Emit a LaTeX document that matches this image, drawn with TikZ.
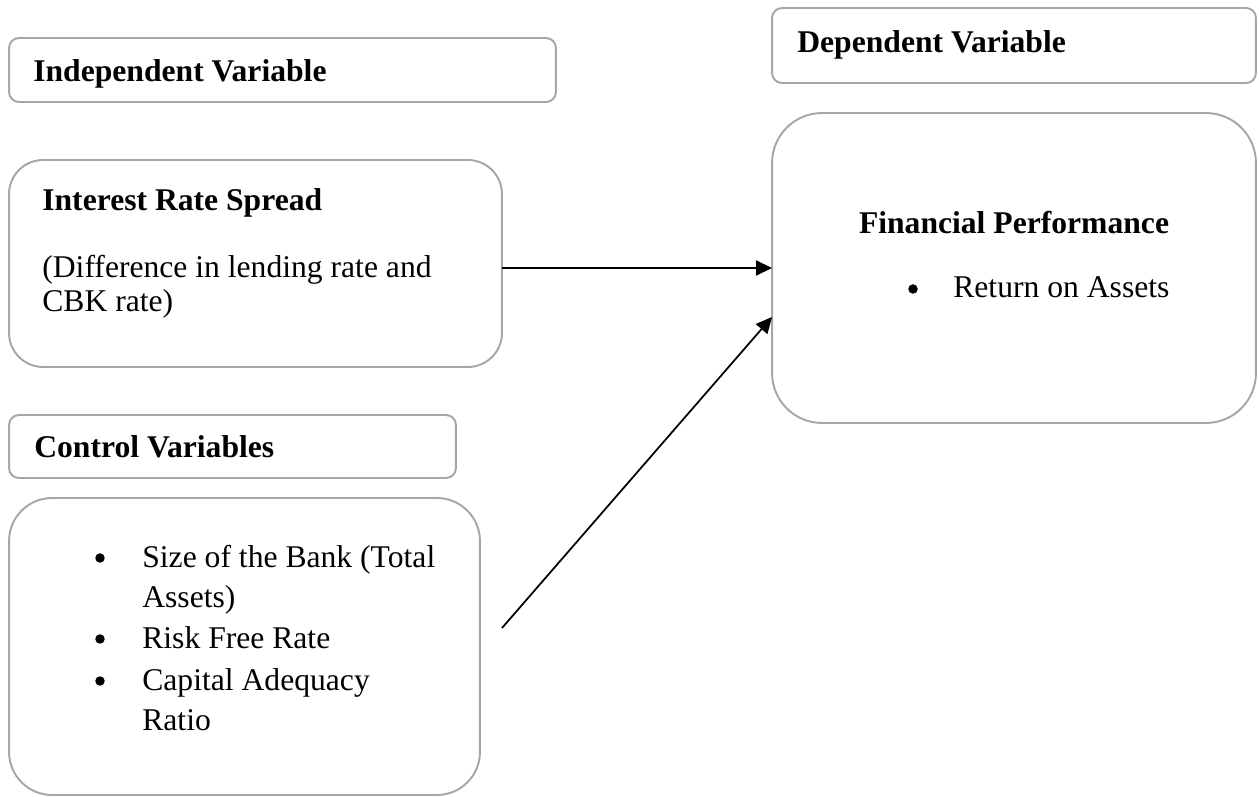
\documentclass[tikz,border=0pt]{standalone}
\usepackage{fontspec}
\setmainfont{Liberation Serif}
\usepackage{xcolor}
\usepackage{tikz}
\usetikzlibrary{arrows.meta}

\definecolor{boxgray}{HTML}{A6A6A6}
\tikzset{
  varbox/.style={draw=boxgray, line width=1.1pt, inner sep=0pt, outer sep=0pt, rounded corners=0.2cm},
  bigbox/.style={draw=boxgray, line width=1.1pt, inner sep=0pt, outer sep=0pt},
  txt/.style={inner sep=0pt, anchor=base west, font=\fontsize{18}{22}\selectfont},
  ctr/.style={inner sep=0pt, anchor=base, font=\fontsize{18}{22}\selectfont},
  dot/.style={circle, fill=black, inner sep=0pt, minimum size=0.19cm},
  link/.style={line width=1pt, -{Triangle[length=0.32cm,width=0.3cm]}}
}

\begin{document}
\begin{tikzpicture}[x=0.02cm,y=-0.02cm]
\useasboundingbox (0,0) rectangle (1259,797);

% headings
\node[varbox, minimum width=10.94cm, minimum height=1.28cm] (indep) at (282.5,70) {};
\node[txt] (indepT) at (33,82) {\textbf{Independent Variable}};
\node[varbox, minimum width=9.68cm, minimum height=1.5cm] (dep) at (1014,45.5) {};
\node[txt] (depT) at (797,53) {\textbf{Dependent Variable}};
\node[varbox, minimum width=8.94cm, minimum height=1.26cm] (ctrl) at (232.5,446.5) {};
\node[txt] (ctrlT) at (34,458) {\textbf{Control Variables}};

% interest rate spread
\node[bigbox, rounded corners=0.68cm, minimum width=9.86cm, minimum height=4.14cm] (irs) at (255.5,263.5) {};
\node[txt] (irsT) at (42,211) {\textbf{Interest Rate Spread}};
\node[txt] (irsA) at (42,278) {(Difference in lending rate and};
\node[txt] (irsB) at (42,312) {CBK rate)};

% financial performance
\node[bigbox, rounded corners=1.0cm, minimum width=9.68cm, minimum height=6.2cm] (fin) at (1014,268) {};
\node[ctr] (finT) at (1014,234) {\textbf{Financial Performance}};
\node[dot] (finD) at (913,289) {};
\node[txt] (finA) at (953,298) {Return on Assets};

% control variables
\node[bigbox, rounded corners=0.86cm, minimum width=9.42cm, minimum height=5.94cm] (list) at (244.5,646.5) {};
\node[dot] (listD1) at (100,558) {};
\node[txt] (listA) at (142,567) {Size of the Bank (Total};
\node[txt] (listB) at (142,607) {Assets)};
\node[dot] (listD2) at (100,639) {};
\node[txt] (listC) at (142,648) {Risk Free Rate};
\node[dot] (listD3) at (100,681) {};
\node[txt] (listD) at (142,690) {Capital Adequacy};
\node[txt] (listE) at (142,730) {Ratio};

% arrows
\coordinate (ctrlstart) at (502,628);
\draw[link] (fin.west -| irs.east) -- (fin.west);
\draw[link] (ctrlstart) -- ([yshift=-0.98cm]fin.west);

\end{tikzpicture}
\end{document}
